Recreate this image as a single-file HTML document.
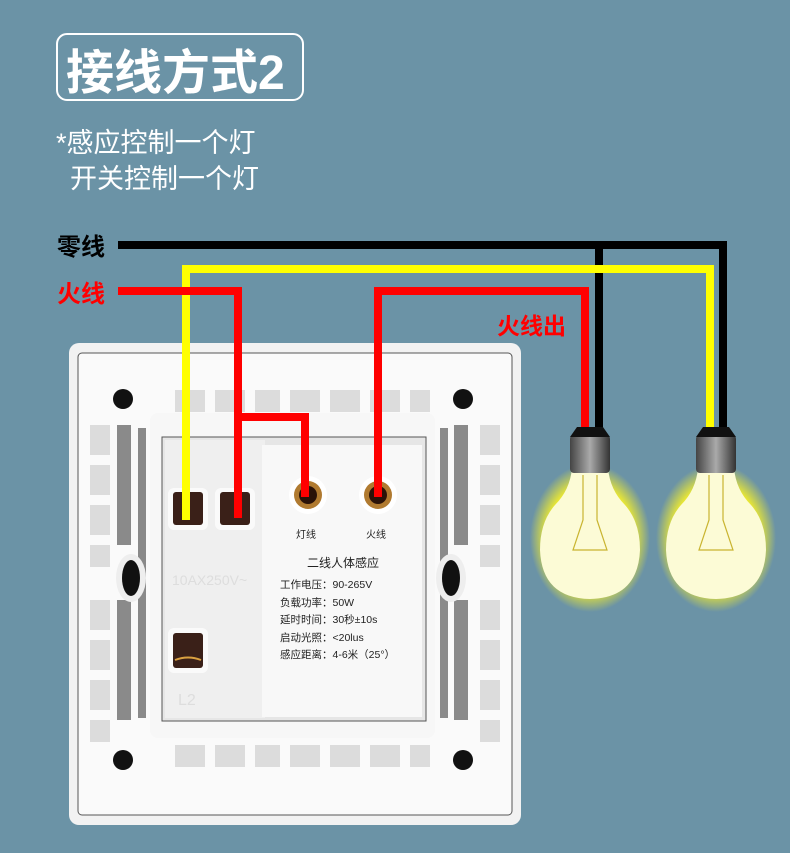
<!DOCTYPE html>
<html><head><meta charset="utf-8"><style>
html,body{margin:0;padding:0;background:#6b93a6;}
svg{display:block}
text{font-family:"Liberation Sans","Noto Sans CJK SC",sans-serif;}
</style></head><body>
<svg width="790" height="853" viewBox="0 0 790 853" xmlns="http://www.w3.org/2000/svg">
<defs>
<radialGradient id="glow" cx="50%" cy="50%" r="50%">
<stop offset="0.72" stop-color="#eeea30" stop-opacity="1"/>
<stop offset="1" stop-color="#eeea30" stop-opacity="0"/>
</radialGradient>
<linearGradient id="metal" x1="0" x2="1">
<stop offset="0" stop-color="#444"/><stop offset="0.5" stop-color="#aaa"/><stop offset="1" stop-color="#333"/>
</linearGradient>
</defs>
<rect width="790" height="853" fill="#6b93a6"/>
<!-- title -->
<rect x="57" y="34" width="246" height="66" rx="10" fill="none" stroke="#fff" stroke-width="2"/>
<text x="66" y="89" font-size="48" font-weight="bold" fill="#fff">接线方式2</text>
<text x="56" y="152" font-size="27" fill="#fff">*感应控制一个灯</text>
<text x="70" y="188" font-size="27" fill="#fff">开关控制一个灯</text>
<text x="57" y="255" font-size="24" font-weight="bold" fill="#000">零线</text>
<text x="57" y="302" font-size="24" font-weight="bold" fill="#f00">火线</text>
<text x="497" y="334" font-size="23" font-weight="bold" fill="#f00">火线出</text>

<!-- plate -->
<rect x="69" y="343" width="452" height="482" rx="10" fill="#f2f2f2"/>
<rect x="78" y="353" width="434" height="462" rx="4" fill="#fafafa" stroke="#555" stroke-width="1"/>
<g fill="#dcdcdc">
<rect x="90" y="425" width="20" height="30"/><rect x="90" y="465" width="20" height="30"/><rect x="90" y="505" width="20" height="30"/><rect x="90" y="545" width="20" height="22"/><rect x="90" y="600" width="20" height="30"/><rect x="90" y="640" width="20" height="30"/><rect x="90" y="680" width="20" height="30"/><rect x="90" y="720" width="20" height="22"/>
<rect x="480" y="425" width="20" height="30"/><rect x="480" y="465" width="20" height="30"/><rect x="480" y="505" width="20" height="30"/><rect x="480" y="545" width="20" height="22"/><rect x="480" y="600" width="20" height="30"/><rect x="480" y="640" width="20" height="30"/><rect x="480" y="680" width="20" height="30"/><rect x="480" y="720" width="20" height="22"/>
<rect x="175" y="390" width="30" height="22"/><rect x="215" y="390" width="30" height="22"/><rect x="255" y="390" width="25" height="22"/><rect x="290" y="390" width="30" height="22"/><rect x="330" y="390" width="30" height="22"/><rect x="370" y="390" width="30" height="22"/><rect x="410" y="390" width="20" height="22"/>
<rect x="175" y="745" width="30" height="22"/><rect x="215" y="745" width="30" height="22"/><rect x="255" y="745" width="25" height="22"/><rect x="290" y="745" width="30" height="22"/><rect x="330" y="745" width="30" height="22"/><rect x="370" y="745" width="30" height="22"/><rect x="410" y="745" width="20" height="22"/>
</g>
<g fill="#8a8a8a">
<rect x="117" y="425" width="14" height="120"/><rect x="117" y="600" width="14" height="120"/>
<rect x="454" y="425" width="14" height="120"/><rect x="454" y="600" width="14" height="120"/>
<rect x="138" y="428" width="8" height="290"/><rect x="440" y="428" width="8" height="290"/>
</g>
<ellipse cx="131" cy="578" rx="15" ry="24" fill="#eee"/>
<ellipse cx="131" cy="578" rx="9" ry="18" fill="#111"/>
<ellipse cx="451" cy="578" rx="15" ry="24" fill="#eee"/>
<ellipse cx="451" cy="578" rx="9" ry="18" fill="#111"/>
<circle cx="123" cy="399" r="10" fill="#111"/><circle cx="463" cy="399" r="10" fill="#111"/>
<circle cx="123" cy="760" r="10" fill="#111"/><circle cx="463" cy="760" r="10" fill="#111"/>
<!-- module -->
<rect x="150" y="413" width="285" height="325" rx="8" fill="#f7f7f7"/>
<rect x="162" y="437" width="264" height="284" fill="#e6e6e6" stroke="#555" stroke-width="1"/>
<rect x="165" y="440" width="100" height="278" fill="#efefef"/>
<rect x="262" y="445" width="160" height="272" fill="#f8f8f8"/>
<text x="172" y="585" font-size="14" fill="#ddd">10AX250V~</text>
<text x="178" y="705" font-size="16" fill="#ddd">L2</text>
<!-- terminals -->
<g>
<rect x="168" y="488" width="40" height="42" rx="6" fill="#fafafa"/>
<rect x="173" y="492" width="30" height="33" rx="3" fill="#3a2018"/>
<rect x="215" y="488" width="40" height="42" rx="6" fill="#fafafa"/>
<rect x="220" y="492" width="30" height="33" rx="3" fill="#3a2018"/>
<rect x="168" y="628" width="40" height="45" rx="6" fill="#fafafa"/>
<rect x="173" y="633" width="30" height="35" rx="3" fill="#3a2018"/>
<path d="M175 660 Q188 655 201 660" stroke="#d9a040" stroke-width="2" fill="none"/>
</g>
<circle cx="308" cy="495" r="19" fill="#fff"/><circle cx="308" cy="495" r="14" fill="#b07a30"/><circle cx="308" cy="495" r="9" fill="#2a1208"/>
<circle cx="378" cy="495" r="19" fill="#fff"/><circle cx="378" cy="495" r="14" fill="#b07a30"/><circle cx="378" cy="495" r="9" fill="#2a1208"/>
<text x="296" y="538" font-size="10" fill="#222">灯线</text>
<text x="366" y="538" font-size="10" fill="#222">火线</text>
<text x="307" y="567" font-size="12" fill="#222">二线人体感应</text>
<g font-size="10.5" fill="#222">
<text x="280" y="588">工作电压：90-265V</text>
<text x="280" y="606">负载功率：50W</text>
<text x="280" y="623">延时时间：30秒±10s</text>
<text x="280" y="641">启动光照：&lt;20lus</text>
<text x="280" y="658">感应距离：4-6米（25°）</text>
</g>
<!-- wires -->
<g fill="none" stroke-width="8" stroke-linejoin="miter" stroke-linecap="butt">
<polyline points="118,245 723,245 723,428" stroke="#000"/>
<polyline points="599,245 599,428" stroke="#000"/>
<polyline points="186,520 186,269 710,269 710,428" stroke="#ff0" />
<polyline points="118,291 238,291 238,518" stroke="#f00"/>
<polyline points="238,417 305,417 305,497" stroke="#f00"/>
<polyline points="378,497 378,291 585,291 585,428" stroke="#f00"/>
</g>
<!-- bulbs -->
<g id="b1">
<ellipse cx="590" cy="538" rx="60" ry="74" fill="url(#glow)"/>
<path d="M572 468 Q570 490 555 505 Q540 522 540 550 Q542 598 590 599 Q638 598 640 550 Q640 522 625 505 Q610 490 608 468 Z" fill="#fcfbd6"/>
<path d="M583 475 L583 520 L573 550 L607 550 L597 520 L597 475" fill="none" stroke="#c9b430" stroke-width="1.2"/>
<rect x="570" y="435" width="40" height="38" rx="4" fill="url(#metal)"/>
<path d="M577 427 L603 427 L610 437 L570 437 Z" fill="#111"/>
</g>
<use href="#b1" x="126"/>
</svg>
</body></html>
